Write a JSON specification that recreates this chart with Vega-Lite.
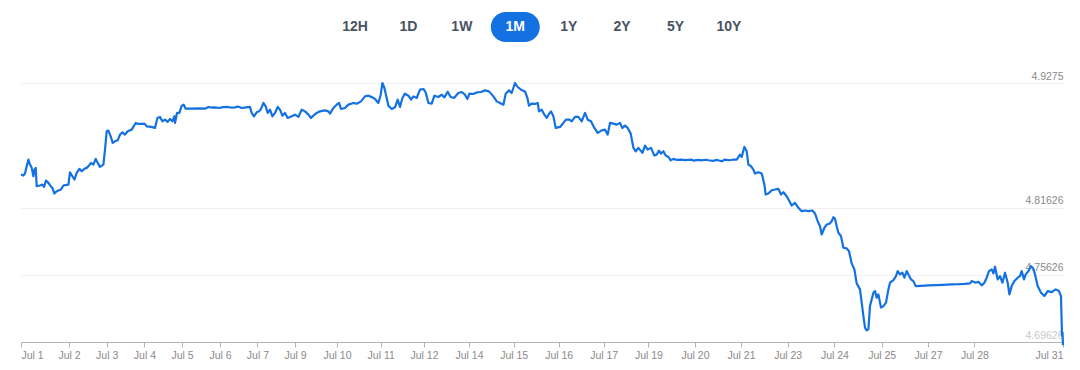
{
  "$schema": "https://vega.github.io/schema/vega-lite/v6.json",
  "padding": {"top": 12, "left": 19, "right": 0, "bottom": 0},
  "background": "white",
  "spacing": 29,
  "config": {"view": {"stroke": null}, "font": "Liberation Sans"},
  "vconcat": [
    {
      "width": 1042,
      "height": 30,
      "data": {"values": [
        {"label": "12H", "selected": false},
        {"label": "1D", "selected": false},
        {"label": "1W", "selected": false},
        {"label": "1M", "selected": true},
        {"label": "1Y", "selected": false},
        {"label": "2Y", "selected": false},
        {"label": "5Y", "selected": false},
        {"label": "10Y", "selected": false}
      ]},
      "encoding": {
        "x": {"field": "label", "type": "nominal", "scale": {"type": "point", "domain": ["12H", "1D", "1W", "1M", "1Y", "2Y", "5Y", "10Y"], "range": [334, 708], "padding": 0}, "axis": null}
      },
      "layer": [
        {
          "transform": [{"filter": "datum.selected"}],
          "mark": {"type": "rect", "width": 49, "cornerRadius": 15, "color": "#1371E2"}
        },
        {
          "mark": {"type": "text", "fontSize": 14, "fontWeight": "bold", "font": "Liberation Sans"},
          "encoding": {
            "text": {"field": "label"},
            "color": {"condition": {"test": "datum.selected", "value": "#ffffff"}, "value": "#4a5263"}
          }
        }
      ]
    },
    {
      "width": 1042,
      "height": 259,
      "data": {"values": [
        {"i": 0, "v": 4.84576}, {"i": 2.4, "v": 4.84486}, {"i": 4, "v": 4.84665}, {"i": 5.7, "v": 4.85316}, {"i": 7.4, "v": 4.85913},
        {"i": 9, "v": 4.85467}, {"i": 10.7, "v": 4.85173}, {"i": 12.4, "v": 4.84424}, {"i": 13.4, "v": 4.85021}, {"i": 14.7, "v": 4.85173},
        {"i": 15.7, "v": 4.83533}, {"i": 19, "v": 4.83595}, {"i": 21.4, "v": 4.83684}, {"i": 23, "v": 4.83479}, {"i": 25, "v": 4.84041},
        {"i": 27.4, "v": 4.83836}, {"i": 29.7, "v": 4.83533}, {"i": 31.4, "v": 4.8339}, {"i": 33.4, "v": 4.82882}, {"i": 35.7, "v": 4.83087},
        {"i": 38, "v": 4.83176}, {"i": 40, "v": 4.83238}, {"i": 42.4, "v": 4.83595}, {"i": 45.7, "v": 4.83657}, {"i": 47.4, "v": 4.83684},
        {"i": 49, "v": 4.84781}, {"i": 51.4, "v": 4.84424}, {"i": 53.4, "v": 4.8413}, {"i": 55.7, "v": 4.84727}, {"i": 58.4, "v": 4.85084},
        {"i": 60.7, "v": 4.8487}, {"i": 63.4, "v": 4.85084}, {"i": 65.7, "v": 4.85173}, {"i": 68, "v": 4.85378}, {"i": 70, "v": 4.85619},
        {"i": 72.4, "v": 4.85467}, {"i": 74.7, "v": 4.85975}, {"i": 76.7, "v": 4.85619}, {"i": 79, "v": 4.85262}, {"i": 82.4, "v": 4.85467},
        {"i": 84, "v": 4.86804}, {"i": 85.7, "v": 4.88436}, {"i": 87.4, "v": 4.88498}, {"i": 89.7, "v": 4.8799}, {"i": 91.7, "v": 4.87401},
        {"i": 94, "v": 4.87544}, {"i": 96.7, "v": 4.87633}, {"i": 99, "v": 4.88141}, {"i": 101.4, "v": 4.88346}, {"i": 104, "v": 4.88141},
        {"i": 106.7, "v": 4.88436}, {"i": 110.7, "v": 4.88587}, {"i": 114.7, "v": 4.89184}, {"i": 117.4, "v": 4.89095}, {"i": 120.7, "v": 4.89095},
        {"i": 123.4, "v": 4.89122}, {"i": 125.7, "v": 4.88881}, {"i": 130, "v": 4.88828}, {"i": 134, "v": 4.88739}, {"i": 136.4, "v": 4.8963},
        {"i": 139, "v": 4.89719}, {"i": 141.4, "v": 4.89327}, {"i": 144, "v": 4.89478}, {"i": 146.7, "v": 4.89273}, {"i": 149, "v": 4.89541},
        {"i": 151.4, "v": 4.89327}, {"i": 153.4, "v": 4.89773}, {"i": 154, "v": 4.89184}, {"i": 156, "v": 4.90076}, {"i": 158.4, "v": 4.90076},
        {"i": 160.7, "v": 4.90726}, {"i": 162.7, "v": 4.90816}, {"i": 164.7, "v": 4.90459}, {"i": 170.7, "v": 4.90459}, {"i": 177, "v": 4.9049},
        {"i": 184, "v": 4.90459}, {"i": 187.4, "v": 4.90611}, {"i": 190, "v": 4.9056}, {"i": 194, "v": 4.90575}, {"i": 198, "v": 4.9052},
        {"i": 202, "v": 4.906}, {"i": 205.7, "v": 4.90611}, {"i": 210, "v": 4.9056}, {"i": 214, "v": 4.90575}, {"i": 217, "v": 4.9065},
        {"i": 220.7, "v": 4.90521}, {"i": 225, "v": 4.9058}, {"i": 229, "v": 4.90611}, {"i": 230.7, "v": 4.90076}, {"i": 233, "v": 4.89773},
        {"i": 235.7, "v": 4.90129}, {"i": 238, "v": 4.90218}, {"i": 240, "v": 4.90432}, {"i": 242.4, "v": 4.90967}, {"i": 244.7, "v": 4.90664},
        {"i": 246.7, "v": 4.90076}, {"i": 249, "v": 4.9037}, {"i": 251.4, "v": 4.89773}, {"i": 254, "v": 4.90076}, {"i": 256.7, "v": 4.90611},
        {"i": 259, "v": 4.9037}, {"i": 261.4, "v": 4.89835}, {"i": 264, "v": 4.90076}, {"i": 266.7, "v": 4.8963}, {"i": 270.7, "v": 4.89773},
        {"i": 274, "v": 4.89924}, {"i": 277.4, "v": 4.89719}, {"i": 280.7, "v": 4.9037}, {"i": 284, "v": 4.90218}, {"i": 287.4, "v": 4.89924},
        {"i": 290, "v": 4.8963}, {"i": 292.4, "v": 4.89835}, {"i": 295.7, "v": 4.90076}, {"i": 299, "v": 4.90218}, {"i": 304, "v": 4.90307},
        {"i": 307.4, "v": 4.90218}, {"i": 309, "v": 4.90013}, {"i": 312.4, "v": 4.90521}, {"i": 315.7, "v": 4.90816}, {"i": 318, "v": 4.90967},
        {"i": 320, "v": 4.90432}, {"i": 324, "v": 4.90521}, {"i": 327.4, "v": 4.90816}, {"i": 332.4, "v": 4.90967}, {"i": 335.7, "v": 4.90905},
        {"i": 340, "v": 4.9111}, {"i": 344, "v": 4.91556}, {"i": 347.4, "v": 4.91618}, {"i": 351.4, "v": 4.91466}, {"i": 354, "v": 4.91324},
        {"i": 357.4, "v": 4.90967}, {"i": 359.7, "v": 4.91707}, {"i": 361.4, "v": 4.9275}, {"i": 363.4, "v": 4.92304}, {"i": 365.7, "v": 4.91413},
        {"i": 367.4, "v": 4.90726}, {"i": 370.7, "v": 4.90432}, {"i": 374, "v": 4.90575}, {"i": 376.7, "v": 4.91261}, {"i": 379, "v": 4.90611},
        {"i": 381.4, "v": 4.91413}, {"i": 384, "v": 4.91796}, {"i": 387.4, "v": 4.91618}, {"i": 390, "v": 4.91261}, {"i": 392.4, "v": 4.91556},
        {"i": 395.7, "v": 4.91413}, {"i": 399, "v": 4.92153}, {"i": 402.4, "v": 4.92215}, {"i": 404.7, "v": 4.91912}, {"i": 407.4, "v": 4.90967},
        {"i": 410.7, "v": 4.90905}, {"i": 413.4, "v": 4.91618}, {"i": 417.4, "v": 4.91502}, {"i": 420.7, "v": 4.91707}, {"i": 423.4, "v": 4.91466},
        {"i": 426.7, "v": 4.91974}, {"i": 429.7, "v": 4.91502}, {"i": 433, "v": 4.91413}, {"i": 437.4, "v": 4.91859}, {"i": 440.7, "v": 4.91948},
        {"i": 444, "v": 4.91707}, {"i": 446.4, "v": 4.91324}, {"i": 448.4, "v": 4.91796}, {"i": 452.4, "v": 4.91769}, {"i": 455.7, "v": 4.91912},
        {"i": 460, "v": 4.91948}, {"i": 464, "v": 4.9209}, {"i": 468, "v": 4.92001}, {"i": 472.4, "v": 4.91556}, {"i": 475.7, "v": 4.9111},
        {"i": 479, "v": 4.90967}, {"i": 482.4, "v": 4.90816}, {"i": 484.7, "v": 4.91796}, {"i": 488, "v": 4.9209}, {"i": 490.7, "v": 4.91859},
        {"i": 494, "v": 4.9275}, {"i": 496.7, "v": 4.92393}, {"i": 500, "v": 4.92153}, {"i": 504, "v": 4.92001}, {"i": 506.4, "v": 4.91413},
        {"i": 508, "v": 4.90726}, {"i": 510.7, "v": 4.90905}, {"i": 514, "v": 4.90878}, {"i": 516.7, "v": 4.90967}, {"i": 518, "v": 4.90218},
        {"i": 520.7, "v": 4.9037}, {"i": 523.4, "v": 4.89924}, {"i": 525.7, "v": 4.8963}, {"i": 528, "v": 4.89987}, {"i": 530, "v": 4.90218},
        {"i": 532.4, "v": 4.89773}, {"i": 534.7, "v": 4.88739}, {"i": 539, "v": 4.88828}, {"i": 542.4, "v": 4.89184}, {"i": 545, "v": 4.89478},
        {"i": 548.4, "v": 4.89478}, {"i": 550.7, "v": 4.89327}, {"i": 554, "v": 4.89719}, {"i": 557.4, "v": 4.89719}, {"i": 560.7, "v": 4.89327},
        {"i": 564, "v": 4.90076}, {"i": 566.7, "v": 4.89478}, {"i": 570, "v": 4.89327}, {"i": 573.4, "v": 4.88739}, {"i": 576.7, "v": 4.88293},
        {"i": 580.7, "v": 4.88525}, {"i": 584, "v": 4.88587}, {"i": 586.7, "v": 4.88141}, {"i": 589, "v": 4.89184}, {"i": 592.4, "v": 4.89122},
        {"i": 595.7, "v": 4.89033}, {"i": 599, "v": 4.89184}, {"i": 601.4, "v": 4.88739}, {"i": 604, "v": 4.88944}, {"i": 606.7, "v": 4.88739},
        {"i": 609.7, "v": 4.8823}, {"i": 612.4, "v": 4.86956}, {"i": 614.7, "v": 4.86653}, {"i": 617.4, "v": 4.86956}, {"i": 621.4, "v": 4.8651},
        {"i": 624, "v": 4.87161}, {"i": 626.7, "v": 4.86804}, {"i": 630, "v": 4.86956}, {"i": 633.4, "v": 4.86269}, {"i": 635.7, "v": 4.86358},
        {"i": 638, "v": 4.86715}, {"i": 640, "v": 4.86448}, {"i": 642.4, "v": 4.86653}, {"i": 644.7, "v": 4.86269}, {"i": 647.4, "v": 4.86153},
        {"i": 649.7, "v": 4.8585}, {"i": 652.4, "v": 4.85975}, {"i": 656, "v": 4.8588}, {"i": 660, "v": 4.85913}, {"i": 664, "v": 4.8587},
        {"i": 670.7, "v": 4.85913}, {"i": 672.4, "v": 4.85824}, {"i": 677, "v": 4.8589}, {"i": 681, "v": 4.8585}, {"i": 685, "v": 4.859},
        {"i": 687.4, "v": 4.8585}, {"i": 692, "v": 4.858}, {"i": 696, "v": 4.8588}, {"i": 700.7, "v": 4.85761}, {"i": 704, "v": 4.85913},
        {"i": 708, "v": 4.8585}, {"i": 712, "v": 4.859}, {"i": 715.7, "v": 4.85913}, {"i": 719, "v": 4.86358}, {"i": 720.7, "v": 4.86153},
        {"i": 723.4, "v": 4.87045}, {"i": 725.7, "v": 4.86653}, {"i": 727.4, "v": 4.85467}, {"i": 730, "v": 4.85316}, {"i": 732.4, "v": 4.85021},
        {"i": 734, "v": 4.84665}, {"i": 737.4, "v": 4.84781}, {"i": 740.7, "v": 4.84665}, {"i": 743.4, "v": 4.83684}, {"i": 744.7, "v": 4.82793},
        {"i": 747.4, "v": 4.82882}, {"i": 750.7, "v": 4.83176}, {"i": 754, "v": 4.83238}, {"i": 757.4, "v": 4.83301}, {"i": 760, "v": 4.82793},
        {"i": 762.4, "v": 4.82998}, {"i": 765.7, "v": 4.82641}, {"i": 768, "v": 4.82258}, {"i": 770.7, "v": 4.81812}, {"i": 774, "v": 4.82053},
        {"i": 777.4, "v": 4.81607}, {"i": 780.7, "v": 4.81304}, {"i": 784, "v": 4.81366}, {"i": 787.4, "v": 4.81304}, {"i": 791.4, "v": 4.81366},
        {"i": 794, "v": 4.81099}, {"i": 796.7, "v": 4.80413}, {"i": 799, "v": 4.79967}, {"i": 800.7, "v": 4.79227}, {"i": 803.4, "v": 4.79824},
        {"i": 805.7, "v": 4.80118}, {"i": 808.4, "v": 4.80181}, {"i": 810.7, "v": 4.80413}, {"i": 812.4, "v": 4.80769}, {"i": 814, "v": 4.80627},
        {"i": 815.7, "v": 4.79967}, {"i": 817.4, "v": 4.79379}, {"i": 820, "v": 4.79076}, {"i": 822.4, "v": 4.78041}, {"i": 825.7, "v": 4.77979},
        {"i": 828, "v": 4.77738}, {"i": 830.7, "v": 4.76642}, {"i": 833.4, "v": 4.76107}, {"i": 835.7, "v": 4.74859}, {"i": 839, "v": 4.74324},
        {"i": 840.7, "v": 4.73139}, {"i": 842.4, "v": 4.71944}, {"i": 844, "v": 4.7091}, {"i": 845.7, "v": 4.70669}, {"i": 847.4, "v": 4.70758},
        {"i": 849, "v": 4.72835}, {"i": 850.7, "v": 4.73433}, {"i": 852.4, "v": 4.7403}, {"i": 854, "v": 4.74173}, {"i": 855.7, "v": 4.73584},
        {"i": 857.4, "v": 4.73878}, {"i": 860, "v": 4.72693}, {"i": 862.4, "v": 4.72835}, {"i": 865, "v": 4.73139}, {"i": 867.4, "v": 4.74324},
        {"i": 869, "v": 4.74921}, {"i": 872.4, "v": 4.75153}, {"i": 875, "v": 4.7551}, {"i": 876.7, "v": 4.75955}, {"i": 879, "v": 4.75661},
        {"i": 881.4, "v": 4.75813}, {"i": 883.4, "v": 4.75367}, {"i": 885.7, "v": 4.75955}, {"i": 888, "v": 4.75572}, {"i": 890, "v": 4.75215},
        {"i": 892.4, "v": 4.75064}, {"i": 894.7, "v": 4.74618}, {"i": 900, "v": 4.7464}, {"i": 907.4, "v": 4.74681}, {"i": 915, "v": 4.747},
        {"i": 922, "v": 4.7473}, {"i": 930.7, "v": 4.7477}, {"i": 938, "v": 4.7479}, {"i": 944, "v": 4.7482}, {"i": 949, "v": 4.74859},
        {"i": 950.7, "v": 4.75064}, {"i": 954.7, "v": 4.74921}, {"i": 957.4, "v": 4.75011}, {"i": 960.7, "v": 4.74681}, {"i": 963.4, "v": 4.74921},
        {"i": 965.7, "v": 4.75367}, {"i": 968, "v": 4.75955}, {"i": 970.7, "v": 4.76107}, {"i": 972.4, "v": 4.7575}, {"i": 974, "v": 4.76348},
        {"i": 976.7, "v": 4.75215}, {"i": 979, "v": 4.7551}, {"i": 981.4, "v": 4.74921}, {"i": 984, "v": 4.75813}, {"i": 986.7, "v": 4.74921},
        {"i": 988.4, "v": 4.73878}, {"i": 990.7, "v": 4.74618}, {"i": 993.4, "v": 4.75064}, {"i": 996.7, "v": 4.75367}, {"i": 999, "v": 4.7551},
        {"i": 1000.7, "v": 4.75955}, {"i": 1003, "v": 4.75215}, {"i": 1004.7, "v": 4.75661}, {"i": 1007.4, "v": 4.75955}, {"i": 1010, "v": 4.76401},
        {"i": 1012.4, "v": 4.76169}, {"i": 1014, "v": 4.75661}, {"i": 1016.7, "v": 4.74618}, {"i": 1020, "v": 4.7403}, {"i": 1023.4, "v": 4.73727},
        {"i": 1026.7, "v": 4.74173}, {"i": 1030.7, "v": 4.74084}, {"i": 1034.7, "v": 4.74324}, {"i": 1038, "v": 4.74173}, {"i": 1040, "v": 4.73727},
        {"i": 1041, "v": 4.70161}, {"i": 1041.5, "v": 4.70464}, {"i": 1042, "v": 4.6933}
      ]},
      "mark": {"type": "line", "color": "#1371E2", "strokeWidth": 2.2, "strokeJoin": "round", "clip": false},
      "encoding": {
        "x": {
          "field": "i", "type": "quantitative",
          "scale": {"domain": [0, 1042], "nice": false, "zero": false},
          "axis": {
            "title": null,
            "values": [0, 48, 85.7, 123.4, 161, 199, 236.4, 274, 316, 359.7, 403, 448, 492.7, 537.7, 582.7, 627.4, 674, 720, 766.7, 813.4, 860.7, 907, 953.4, 1042],
            "labelExpr": "['Jul 1','Jul 2','Jul 3','Jul 4','Jul 5','Jul 6','Jul 7','Jul 9','Jul 10','Jul 11','Jul 12','Jul 14','Jul 15','Jul 16','Jul 17','Jul 19','Jul 20','Jul 21','Jul 23','Jul 24','Jul 25','Jul 27','Jul 28','Jul 31'][indexof([0, 48, 85.7, 123.4, 161, 199, 236.4, 274, 316, 359.7, 403, 448, 492.7, 537.7, 582.7, 627.4, 674, 720, 766.7, 813.4, 860.7, 907, 953.4, 1042], datum.value)]",
            "grid": false,
            "domainColor": "#b3b3b3",
            "tickColor": "#b3b3b3",
            "tickSize": 5,
            "labelPadding": 3,
            "labelColor": "#8a8a8a",
            "labelFontSize": 10.5,
            "labelFont": "Liberation Sans",
            "labelFlush": true,
            "labelOverlap": false
          }
        },
        "y": {
          "field": "v", "type": "quantitative",
          "scale": {"domain": [4.69626, 4.9275], "nice": false, "zero": false},
          "axis": {
            "title": null,
            "orient": "right",
            "values": [4.69626, 4.75626, 4.81626, 4.9275],
            "labelExpr": "'' + datum.value",
            "domain": false,
            "ticks": false,
            "tickSize": 0,
            "labelPadding": 0,
            "labelAlign": "right",
            "labelBaseline": "alphabetic",
            "labelOffset": -4,
            "labelFontSize": 10.5,
            "labelFont": "Liberation Sans",
            "labelBound": false,
            "labelColor": {"condition": {"test": "datum.value < 4.7", "value": "#c9c9c9"}, "value": "#8a8a8a"},
            "grid": true,
            "gridColor": "#f0f0f0"
          }
        }
      }
    }
  ]
}
